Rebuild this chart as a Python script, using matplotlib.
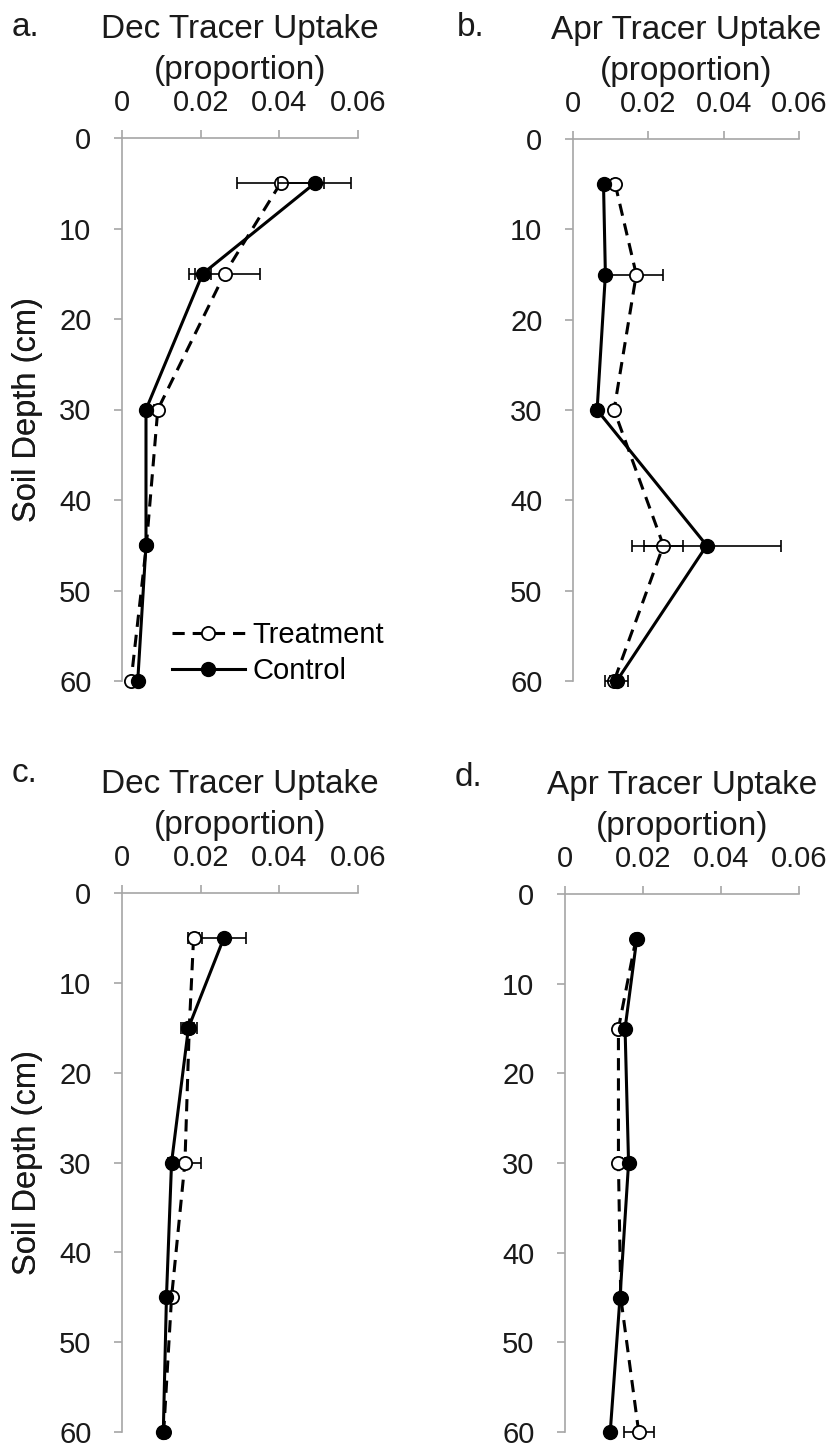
import matplotlib
matplotlib.use("Agg")
import matplotlib.pyplot as plt

plt.rcParams['font.family'] = ['Liberation Sans', 'DejaVu Sans']

depth = [5, 15, 30, 45, 60]

# a. Dec tracer, top row
a_treat = [0.0403, 0.0261, 0.0091, 0.0062, 0.0023]
a_treat_err = [0.0111, 0.0091, 0.0010, 0.0005, 0.0005]
a_ctrl = [0.0490, 0.0205, 0.0061, 0.0061, 0.0040]
a_ctrl_err = [0.0093, 0.0020, 0.0008, 0.0005, 0.0005]

# b. Apr tracer, top row
b_treat = [0.0112, 0.0168, 0.0109, 0.0240, 0.0109]
b_treat_err = [0.0008, 0.0072, 0.0008, 0.0051, 0.0010]
b_ctrl = [0.0081, 0.0086, 0.0064, 0.0355, 0.0116]
b_ctrl_err = [0.0005, 0.0005, 0.0010, 0.0198, 0.0030]

# c. Dec tracer, bottom row
c_treat = [0.0182, 0.0171, 0.0160, 0.0126, 0.0106]
c_treat_err = [0.0015, 0.0020, 0.0040, 0.0005, 0.0005]
c_ctrl = [0.0259, 0.0169, 0.0126, 0.0113, 0.0105]
c_ctrl_err = [0.0056, 0.0015, 0.0008, 0.0005, 0.0005]

# d. Apr tracer, bottom row
d_treat = [0.0182, 0.0137, 0.0137, 0.0143, 0.0189]
d_treat_err = [0.0005, 0.0008, 0.0008, 0.0005, 0.0038]
d_ctrl = [0.0184, 0.0154, 0.0163, 0.0141, 0.0116]
d_ctrl_err = [0.0005, 0.0005, 0.0008, 0.0005, 0.0005]

panels = [
    ("a.", "Dec Tracer Uptake", a_treat, a_treat_err, a_ctrl, a_ctrl_err),
    ("b.", "Apr Tracer Uptake", b_treat, b_treat_err, b_ctrl, b_ctrl_err),
    ("c.", "Dec Tracer Uptake", c_treat, c_treat_err, c_ctrl, c_ctrl_err),
    ("d.", "Apr Tracer Uptake", d_treat, d_treat_err, d_ctrl, d_ctrl_err),
]

W, H = 840, 1447
# axes boxes in pixels: left, right, top, bottom
boxes = [(122, 358, 138, 681), (573, 799, 139, 681),
         (122, 358, 893, 1432), (565, 799, 894, 1432)]
letter_x = [12, 457, 12, 455]
letter_y = [28, 28, 773, 777]

fig = plt.figure(figsize=(W / 100, H / 100), dpi=100)
grey = '#a6a6a6'
ink = '#1a1a1a'

for i, (letter, title, tr, tre, ct, cte) in enumerate(panels):
    l, r, t, b = boxes[i]
    ax = fig.add_axes([l / W, 1 - b / H, (r - l) / W, (b - t) / H])

    ax.errorbar(tr, depth, xerr=tre, fmt='none', ecolor='black', elinewidth=1.2,
                capsize=4, capthick=1.2, clip_on=False, zorder=2)
    ax.plot(tr, depth, color='black', linestyle=(0, (4, 2.6)), linewidth=2.2,
            marker='o', markersize=9.5, markerfacecolor='white',
            markeredgecolor='black', markeredgewidth=1.3,
            label='Treatment', clip_on=False, zorder=3)
    ax.errorbar(ct, depth, xerr=cte, fmt='none', ecolor='black', elinewidth=1.2,
                capsize=4, capthick=1.2, clip_on=False, zorder=4)
    ax.plot(ct, depth, color='black', linestyle='-', linewidth=2.2,
            marker='o', markersize=10, markerfacecolor='black',
            markeredgecolor='black', label='Control', clip_on=False, zorder=5)

    ax.set_xlim(0, 0.06)
    ax.set_ylim(60, 0)
    ax.set_xticks([0, 0.02, 0.04, 0.06])
    ax.set_xticklabels(['0', '0.02', '0.04', '0.06'])
    ax.set_yticks([0, 10, 20, 30, 40, 50, 60])
    ax.xaxis.tick_top()
    ax.xaxis.set_label_position('top')

    for s in ['right', 'bottom']:
        ax.spines[s].set_visible(False)
    for s in ['left', 'top']:
        ax.spines[s].set_color(grey)
        ax.spines[s].set_linewidth(1.2)

    ax.tick_params(axis='x', direction='out', length=6, width=1.2, color=grey,
                   labelsize=21, pad=9, labelcolor=ink)
    ax.tick_params(axis='y', direction='out', length=6, width=1.2, color=grey,
                   labelsize=21, pad=16, labelcolor=ink)

    ax.set_xlabel(title + "\n(proportion)", fontsize=24, linespacing=1.42,
                  labelpad=7, color=ink)
    ax.set_ylabel("Soil Depth (cm)", fontsize=23.5, color=ink, va='center')
    ax.yaxis.set_label_coords((28 - l) / (r - l), 0.5)

    fig.text(letter_x[i] / W, 1 - letter_y[i] / H, letter,
             fontsize=24, ha='left', va='center', color=ink)

    if i == 0:
        ax.legend(loc='upper left', bbox_to_anchor=(172 / W, 1 - 621 / H),
                  bbox_transform=fig.transFigure, frameon=False, fontsize=21,
                  handlelength=2.5, handletextpad=0.25, labelspacing=0.28,
                  borderpad=0, borderaxespad=0)

fig.savefig("out.png", dpi=100)
